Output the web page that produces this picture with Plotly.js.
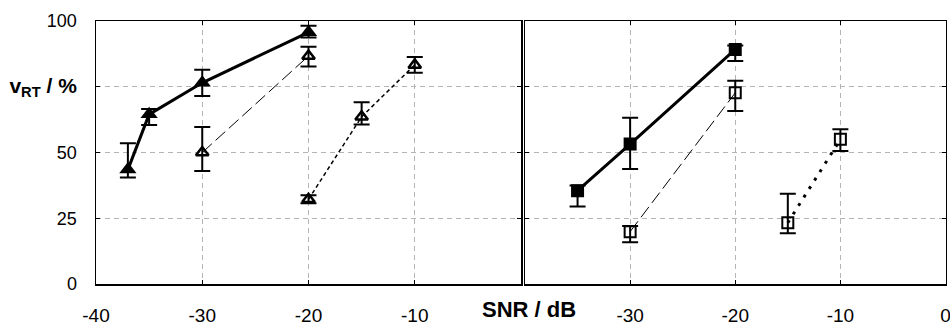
<!DOCTYPE html>
<html>
<head>
<meta charset="utf-8">
<script src="https://cdn.plot.ly/plotly-3.0.1.min.js"></script>
<style>html,body{margin:0;padding:0;background:#fff;}#chart{width:950px;height:326px;}</style>
</head>
<body>
<div id="chart"></div>
<script>
// Left panel data
const snrA1 = [-37, -35, -30, -20];
const vA1 = [43.5, 64.5, 76.5, 95.7];
const errA1Plus = [10, 2, 5, 2.5];
const errA1Minus = [3, 4, 5, 2];

const snrA2 = [-30, -20];
const vA2 = [50, 86.7];
const errA2Plus = [9.7, 3.5];
const errA2Minus = [7, 4];

const snrA3 = [-20, -15, -10];
const vA3 = [32.2, 63.6, 83.3];
const errA3Plus = [1.5, 5.5, 3];
const errA3Minus = [1.5, 3, 3];

// Right panel data
const snrB1 = [-35, -30, -20];
const vB1 = [35.5, 53.2, 89.2];
const errB1Plus = [2, 10, 1.5];
const errB1Minus = [6, 9.5, 4.4];

const snrB2 = [-30, -20];
const vB2 = [19.9, 72.7];
const errB2Plus = [2.2, 4.6];
const errB2Minus = [4, 6.9];

const snrB3 = [-15, -10];
const vB3 = [23.3, 55];
const errB3Plus = [11, 3.8];
const errB3Minus = [4, 4.4];

// Tick labels
const yTickVals = [0, 25, 50, 75, 100];
const yTickText = ['0', '25', '50', '<span style="font-size:21px"><b>v<sub>RT</sub> / %</b></span>', '100'];
const xTickValsLeft = [-40, -30, -20, -10];
const xTickValsRight = [-30, -20, -10, 0];
const xTitle = '<b>SNR / dB</b>';

function err(plus, minus) {
  return {type: 'data', symmetric: false, array: plus, arrayminus: minus,
          color: '#000', thickness: 2, width: 8};
}

const traces = [
  {x: snrA1, y: vA1, xaxis: 'x', yaxis: 'y', mode: 'lines+markers',
   line: {color: '#000', width: 3},
   marker: {symbol: 'triangle-up', size: 15, color: '#000'},
   error_y: err(errA1Plus, errA1Minus)},
  {x: snrA2, y: vA2, xaxis: 'x', yaxis: 'y', mode: 'lines+markers',
   line: {color: '#000', width: 1, dash: '13px,5px'},
   marker: {symbol: 'triangle-up-open', size: 11, color: '#000', line: {width: 2.5, color: '#000'}},
   error_y: err(errA2Plus, errA2Minus)},
  {x: snrA3, y: vA3, xaxis: 'x', yaxis: 'y', mode: 'lines+markers',
   line: {color: '#000', width: 1.5, dash: '4px,3px'},
   marker: {symbol: 'triangle-up-open', size: 11, color: '#000', line: {width: 2.5, color: '#000'}},
   error_y: err(errA3Plus, errA3Minus)},
  {x: snrB1, y: vB1, xaxis: 'x2', yaxis: 'y2', mode: 'lines+markers',
   line: {color: '#000', width: 3},
   marker: {symbol: 'square', size: 13, color: '#000'},
   error_y: err(errB1Plus, errB1Minus)},
  {x: snrB2, y: vB2, xaxis: 'x2', yaxis: 'y2', mode: 'lines+markers',
   line: {color: '#000', width: 1, dash: '13px,5px'},
   marker: {symbol: 'square-open', size: 11, color: '#000', line: {width: 2, color: '#000'}},
   error_y: err(errB2Plus, errB2Minus)},
  {x: snrB3, y: vB3, xaxis: 'x2', yaxis: 'y2', mode: 'lines+markers',
   line: {color: '#000', width: 3, dash: '3px,7px'},
   marker: {symbol: 'square-open', size: 11, color: '#000', line: {width: 2, color: '#000'}},
   error_y: err(errB3Plus, errB3Minus)}
];

const yDom = [42/326, 305/326];
const commonAxis = {
  showline: true, linecolor: '#000', linewidth: 1.5, mirror: 'ticks',
  ticks: 'inside', ticklen: 4, tickcolor: '#000', tickwidth: 1,
  showgrid: true, gridcolor: '#b4b4b4', griddash: '5px,4px', gridwidth: 1,
  zeroline: false, fixedrange: true, ticklabeloverflow: 'allow'
};
const layout = {
  width: 950, height: 326,
  margin: {l: 0, r: 0, t: 0, b: 0},
  paper_bgcolor: '#fff', plot_bgcolor: '#fff',
  showlegend: false,
  font: {family: 'Liberation Sans, Arial, sans-serif', color: '#000', size: 18},
  xaxis: Object.assign({}, commonAxis, {domain: [96/950, 521/950], range: [-40, 0], anchor: 'y',
    tickvals: xTickValsLeft, ticktext: xTickValsLeft.map(String), ticklabelstandoff: 14,
    tickfont: {size: 19}}),
  yaxis: Object.assign({}, commonAxis, {domain: yDom, range: [0, 100], anchor: 'x',
    tickvals: yTickVals, ticktext: yTickText, ticklabelstandoff: 14, tickfont: {size: 18}}),
  xaxis2: Object.assign({}, commonAxis, {domain: [525/950, 945.5/950], range: [-40, 0], anchor: 'y2',
    tickvals: xTickValsRight, ticktext: xTickValsRight.map(String), ticklabelstandoff: 14,
    tickfont: {size: 19}}),
  yaxis2: Object.assign({}, commonAxis, {domain: yDom, range: [0, 100], anchor: 'x2',
    tickvals: yTickVals, showticklabels: false}),
  annotations: [
    {text: xTitle, xref: 'paper', yref: 'paper', x: 529/950, y: (326-309)/326,
     xanchor: 'center', yanchor: 'middle', showarrow: false, font: {size: 22, color: '#000'}}
  ]
};

Plotly.newPlot('chart', traces, layout, {displayModeBar: false, staticPlot: true});
</script>
</body>
</html>
